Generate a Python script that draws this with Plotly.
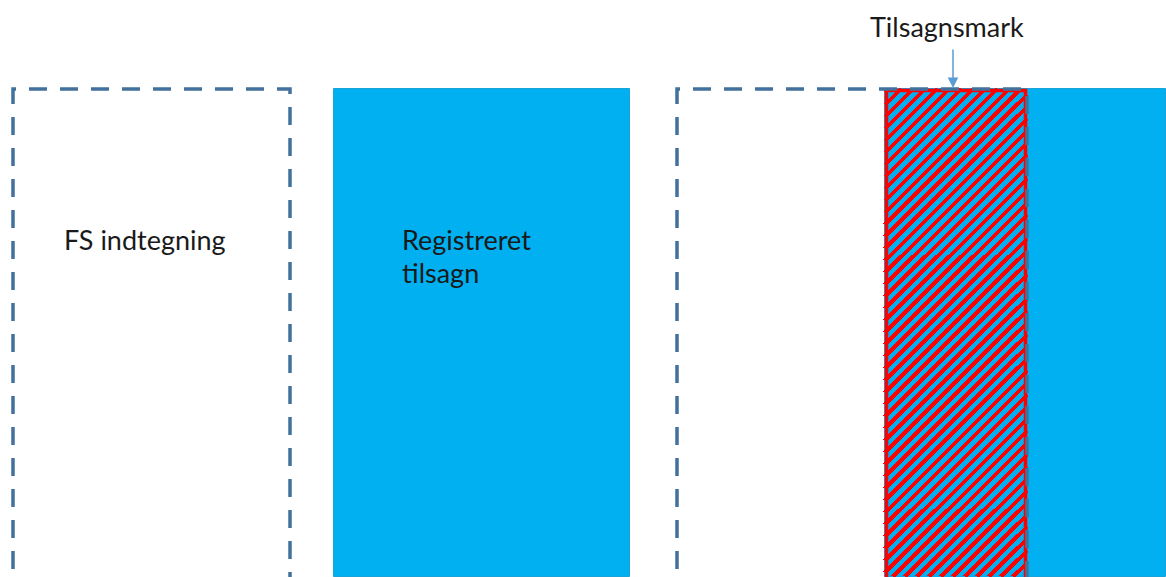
import plotly.graph_objects as go

# ---- diagram content (pixel-space coordinates of the drawing) ----
# solid blue blocks ("Registreret tilsagn")
block_x0 = [334, 885]
block_x1 = [630, 1166]
block_top = [89, 89]
block_bottom = [577, 577]

# hatched block ("Tilsagnsmark")
hatch_x0 = [885]
hatch_x1 = [1027]
hatch_top = [89]
hatch_bottom = [577]

# dashed open boxes ("FS indtegning")
dash_x0 = [13, 677]
dash_x1 = [290, 1027]
dash_top = [89, 89]
dash_bottom = [600, 600]

# labels (one entry per text line)
label_text = ["FS indtegning", "Registreret", "tilsagn"]
label_x = [62, 400, 400]
label_y = [239, 239, 272]

mark_text = "Tilsagnsmark"
mark_x = 947
mark_y = 26
arrow_x = 953
arrow_from_y = 48
arrow_to_y = 88

BLUE = "#00B0F0"
STEEL = "#41719C"
RED = "#FF0000"
ARROW = "#5B9BD5"
FONT = "Lato, 'Open Sans', sans-serif"
FONT_SIZE = 27
HATCH_PITCH = 12

fig = go.Figure()

# solid blue fills
fig.add_trace(go.Bar(
    x=[(a + b) / 2 for a, b in zip(block_x0, block_x1)],
    width=[b - a for a, b in zip(block_x0, block_x1)],
    base=block_top,
    y=[b - t for t, b in zip(block_top, block_bottom)],
    marker=dict(color=BLUE, line=dict(color="#1AA3D9", width=1)),
    hoverinfo="skip", showlegend=False,
))

# hatched block: blue fill, diagonal red stripes clipped to the block, red outline
fig.add_trace(go.Bar(
    x=[(a + b) / 2 for a, b in zip(hatch_x0, hatch_x1)],
    width=[b - a for a, b in zip(hatch_x0, hatch_x1)],
    base=hatch_top,
    y=[b - t for t, b in zip(hatch_top, hatch_bottom)],
    marker=dict(color=BLUE, line=dict(width=0)),
    hoverinfo="skip", showlegend=False,
))

hx, hy = [], []
for x0, x1, t, b in zip(hatch_x0, hatch_x1, hatch_top, hatch_bottom):
    c = x0 + t + 4
    while c < x1 + b:
        xa = max(x0, c - b)
        xb = min(x1, c - t)
        if xb > xa:
            hx += [xa, xb, None]
            hy += [c - xa, c - xb, None]
        c += HATCH_PITCH
fig.add_trace(go.Scatter(
    x=hx, y=hy, mode="lines", line=dict(color=RED, width=4.2),
    hoverinfo="skip", showlegend=False,
))

for x0, x1, t, b in zip(hatch_x0, hatch_x1, hatch_top, hatch_bottom):
    fig.add_shape(
        type="rect", x0=x0 + 1.5, x1=x1 - 1.5, y0=t + 1.5, y1=b + 5,
        xref="x", yref="y", line=dict(color=RED, width=3.5),
        fillcolor="rgba(0,0,0,0)", layer="above",
    )

# dashed outlines
for x0, x1, t, b in zip(dash_x0, dash_x1, dash_top, dash_bottom):
    fig.add_shape(
        type="path",
        path=f"M {x0},{b} L {x0},{t} L {x1},{t} L {x1},{b}",
        xref="x", yref="y",
        line=dict(color=STEEL, width=3.5, dash="18px,13px"),
        layer="above",
    )

for txt, x, y in zip(label_text, label_x, label_y):
    fig.add_annotation(
        text=txt, x=x, y=y, xref="x", yref="y",
        xanchor="left", yanchor="middle", align="left",
        showarrow=False,
        font=dict(family=FONT, size=FONT_SIZE, color="#1a1a1a"),
    )

fig.add_annotation(
    text=mark_text, x=mark_x, y=mark_y, xref="x", yref="y",
    xanchor="center", yanchor="middle", showarrow=False,
    font=dict(family=FONT, size=FONT_SIZE, color="#1a1a1a"),
)

fig.add_annotation(
    x=arrow_x, y=arrow_to_y, ax=arrow_x, ay=arrow_from_y,
    xref="x", yref="y", axref="x", ayref="y",
    text="", showarrow=True, arrowhead=2, arrowsize=1.4,
    arrowwidth=1.5, arrowcolor=ARROW,
)

fig.update_layout(
    width=1166, height=577,
    margin=dict(l=0, r=0, t=0, b=0),
    paper_bgcolor="white", plot_bgcolor="white",
    barmode="overlay", bargap=0,
    xaxis=dict(range=[0, 1166], visible=False, fixedrange=True),
    yaxis=dict(range=[577, 0], visible=False, fixedrange=True),
    showlegend=False,
)

post = (
    "document.body.style.margin='0';"
    "var gd=document.getElementById('{plot_id}');"
    "if(gd){gd.querySelectorAll('.scatterlayer .js-line').forEach("
    "function(p){p.style.shapeRendering='crispEdges';});}"
)
fig.write_html("out.html", config={"displayModeBar": False}, post_script=post)
